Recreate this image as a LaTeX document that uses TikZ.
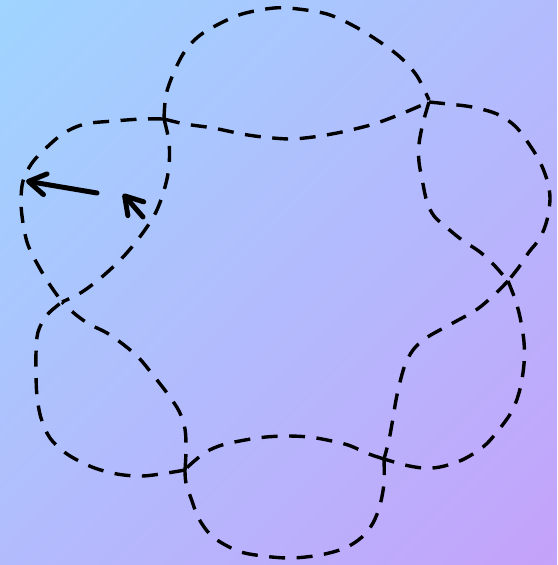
\documentclass[tikz,border=0pt]{standalone}
\usetikzlibrary{arrows.meta,shadings}
\definecolor{bgTL}{RGB}{159,213,255}
\definecolor{bgBR}{RGB}{196,162,250}
\definecolor{bgMID}{RGB}{178,188,253}
\tikzset{
  petal/.style={draw=black, line width=3.4pt, dash pattern=on 16pt off 11.5pt},
  pointer/.style={draw=black, line width=5pt, line cap=round,
    -{Straight Barb[length=17pt,width=21pt,line cap=round,line join=round]}},
}
\begin{document}
\begin{tikzpicture}[x=1pt,y=-1pt]
\shade[upper left=bgTL, lower right=bgBR, upper right=bgMID, lower left=bgMID] (0,0) rectangle (557,565);
\useasboundingbox (0,0) rectangle (557,565);
% crossing points
\coordinate (A) at (164,119);
\coordinate (B) at (429,102);
\coordinate (C) at (508,281);
\coordinate (D) at (384,459);
\coordinate (E) at (185,470);
\coordinate (F) at (62,302);
% top petal
\draw[petal] plot[smooth,tension=0.55] coordinates {(164,119) (166,95) (174,72) (185,51) (199,36) (217,25) (242,14) (274,8) (298,9) (327,14) (352,25) (377,40) (400,57) (417,76) (429,100)};
\draw[petal] plot[smooth,tension=0.55] coordinates {(164,119) (185,124) (213,128) (242,134) (263,137) (290,139) (313,137) (337,133) (359,128) (377,123) (401,114) (429,102)};
% right petal
\draw[petal] plot[smooth,tension=0.55] coordinates {(429,102) (448,104) (472,107) (497,114) (515,126) (529,144) (540,162) (547,180) (550,198) (547,220) (540,238) (529,252) (519,267) (508,281)};
\draw[petal] plot[smooth,tension=0.55] coordinates {(429,102) (423,123) (419,144) (419,162) (423,184) (427,202) (434,216) (446,227) (462,240) (480,252) (494,265) (508,281)};
% lower right petal
\draw[petal] plot[smooth,tension=0.55] coordinates {(508,281) (515,299) (520,317) (524,342) (524,364) (520,389) (512,411) (497,432) (483,447) (462,460) (440,467) (423,468) (405,465) (384,459)};
\draw[petal] plot[smooth,tension=0.55] coordinates {(508,281) (494,295) (476,310) (451,324) (426,338) (413,350) (405,365) (400,382) (396,400) (393,418) (389,440) (384,459)};
% bottom petal
\draw[petal] plot[smooth,tension=0.55] coordinates {(384,459) (384,483) (380,505) (373,523) (362,537) (345,548) (320,555) (291,558) (263,556) (238,551) (213,537) (199,519) (192,501) (186,483) (185,470)};
\draw[petal] plot[smooth,tension=0.55] coordinates {(384,459) (369,454) (348,445) (327,440) (309,437) (288,436) (266,437) (245,440) (222,445) (206,452) (192,463) (185,470)};
% lower left petal
\draw[petal] plot[smooth,tension=0.55] coordinates {(185,470) (167,473) (142,476) (117,474) (92,467) (67,454) (50,438) (41,418) (37,396) (36,375) (36,353) (38,332) (47,315) (62,302)};
\draw[petal] plot[smooth,tension=0.55] coordinates {(185,470) (186,450) (185,429) (179,411) (167,393) (153,375) (139,358) (124,345) (107,333) (89,324) (75,314) (62,302)};
% left petal
\draw[petal] plot[smooth,tension=0.55] coordinates {(164,119) (142,119) (114,121) (85,124) (64,133) (46,148) (32,163) (23,181) (21,202) (23,223) (28,245) (39,267) (50,285) (62,302)};
\draw[petal] plot[smooth,tension=0.55] coordinates {(164,119) (169,142) (169,166) (165,187) (156,212) (142,234) (124,256) (103,276) (82,292) (62,302)};
% solid arrows
\coordinate (p1s) at (97,193);
\coordinate (p1e) at (26,181);
\coordinate (p2s) at (143,217);
\coordinate (p2e) at (123,194);
\draw[pointer] (p1s) -- (p1e);
\draw[pointer] (p2s) -- (p2e);
\end{tikzpicture}
\end{document}
